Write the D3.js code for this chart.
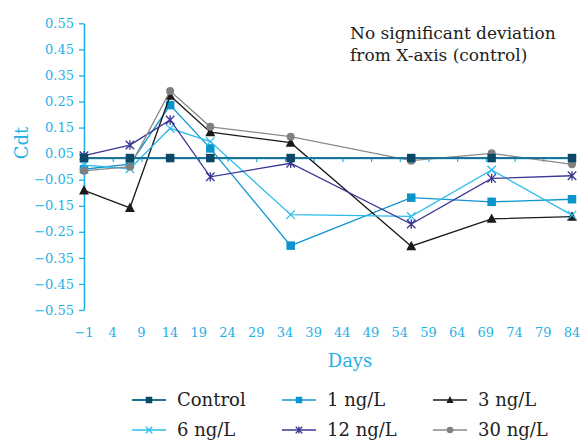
<!DOCTYPE html>
<html>
<head>
<meta charset="utf-8">
<script src="https://cdn.jsdelivr.net/npm/d3@7"></script>
<style>
  html, body { margin: 0; padding: 0; background: #ffffff; }
  svg { display: block; }
  text { font-family: "DejaVu Serif", serif; }
</style>
</head>
<body>
<svg id="chart" width="585" height="441"></svg>
<script>
// Sampling days
const days = [-1, 7, 14, 21, 35, 56, 70, 84];

// Cdt per concentration group
const control = [0.033, 0.033, 0.033, 0.033, 0.033, 0.033, 0.033, 0.033];
const ng1  = [-0.010, 0.010, 0.236, 0.070, -0.303, -0.119, -0.135, -0.125];
const ng3  = [-0.091, -0.158, 0.272, 0.132, 0.092, -0.305, -0.200, -0.192];
const ng6  = [0.006, -0.008, 0.147, 0.096, -0.184, -0.191, -0.013, -0.186];
const ng12 = [0.042, 0.083, 0.179, -0.039, 0.013, -0.220, -0.045, -0.035];
const ng30 = [-0.016, 0.000, 0.290, 0.153, 0.115, 0.023, 0.051, 0.009];

const seriesNames = ["Control", "1 ng/L", "3 ng/L", "6 ng/L", "12 ng/L", "30 ng/L"];

// Axis ticks
const xTicks = d3.range(-1, 85, 5);
const yTicks = d3.range(-0.55, 0.5501, 0.1);

const axisColor = "#1fb1e6";

const series = [
  { name: seriesNames[1], values: ng1,  line: "#1096cf", fill: "#0b93cc", marker: "square" },
  { name: seriesNames[2], values: ng3,  line: "#1a1a1a", fill: "#1a1a1a", marker: "triangle" },
  { name: seriesNames[3], values: ng6,  line: "#2cbcec", fill: "#2cbcec", marker: "cross" },
  { name: seriesNames[4], values: ng12, line: "#3b3795", fill: "#3b3795", marker: "asterisk" },
  { name: seriesNames[5], values: ng30, line: "#8a8a8a", fill: "#808080", marker: "circle" },
  { name: seriesNames[0], values: control, line: "#1f7296", fill: "#0b4866", marker: "square" }
];

const svg = d3.select("#chart");

const x = d3.scaleLinear().domain([-1, 84]).range([84, 572]);
const y = d3.scaleLinear().domain([-0.55, 0.55]).range([310, 23.3]);

// Y axis
const yAxis = svg.append("g")
  .attr("transform", `translate(${x(-1)},0)`)
  .call(d3.axisLeft(y).tickValues(yTicks).tickFormat(d3.format(".2f")).tickSize(5).tickPadding(5).tickSizeOuter(0));
yAxis.select(".domain").attr("stroke", axisColor).attr("stroke-width", 1.6);
yAxis.selectAll(".tick line").attr("stroke", axisColor).attr("stroke-width", 1.3);
yAxis.selectAll(".tick text")
  .attr("fill", axisColor)
  .style("font-size", "13px")
  .style("font-family", "DejaVu Serif, serif");

// X axis line crossing at the control level, with ticks below
const xAxisY = y(control[0]);
const xAxis = svg.append("g")
  .attr("transform", `translate(0,${xAxisY})`)
  .call(d3.axisBottom(x).tickValues(xTicks).tickFormat("").tickSize(4).tickSizeOuter(0));
xAxis.select(".domain").attr("stroke", axisColor).attr("stroke-width", 1.3);
xAxis.selectAll(".tick line").attr("stroke", axisColor).attr("stroke-width", 1.2);

// X tick labels at the bottom of the plot
svg.append("g").selectAll("text")
  .data(xTicks)
  .join("text")
  .attr("x", d => x(d))
  .attr("y", 337)
  .attr("text-anchor", "middle")
  .attr("fill", axisColor)
  .style("font-size", "13px")
  .text(d => d3.format("d")(d));

// Axis titles
svg.append("text")
  .attr("x", 350)
  .attr("y", 367)
  .attr("text-anchor", "middle")
  .attr("fill", axisColor)
  .style("font-size", "18px")
  .text("Days");

svg.append("text")
  .attr("transform", `translate(28,143) rotate(-90)`)
  .attr("text-anchor", "middle")
  .attr("fill", axisColor)
  .style("font-size", "18px")
  .text("Cdt");

// Annotation
const note = svg.append("text")
  .attr("x", 350)
  .attr("y", 39)
  .attr("fill", "#222222")
  .style("font-size", "17px");
note.append("tspan").attr("x", 350).text("No significant deviation");
note.append("tspan").attr("x", 350).attr("dy", 21.5).text("from X-axis (control)");

// Marker drawing
function drawMarker(g, type, color, s) {
  if (type === "square") {
    g.append("rect").attr("x", -s / 2).attr("y", -s / 2).attr("width", s).attr("height", s).attr("fill", color);
  } else if (type === "triangle") {
    const h = s;
    g.append("path").attr("d", `M0,${-h * 0.6}L${h * 0.55},${h * 0.45}L${-h * 0.55},${h * 0.45}Z`).attr("fill", color);
  } else if (type === "circle") {
    g.append("circle").attr("r", s / 2).attr("fill", color);
  } else if (type === "cross") {
    const r = s / 2;
    g.append("path").attr("d", `M${-r},${-r}L${r},${r}M${-r},${r}L${r},${-r}`).attr("stroke", color).attr("stroke-width", 1.3).attr("fill", "none");
  } else if (type === "asterisk") {
    const r = s / 2;
    g.append("path").attr("d", `M${-r},${-r}L${r},${r}M${-r},${r}L${r},${-r}M0,${-r * 1.1}L0,${r * 1.1}`).attr("stroke", color).attr("stroke-width", 1.3).attr("fill", "none");
  }
}

const line = d3.line().x((d, i) => x(days[i])).y(d => y(d));

const plot = svg.append("g");
series.forEach(s => {
  plot.append("path")
    .datum(s.values)
    .attr("d", line)
    .attr("fill", "none")
    .attr("stroke", s.line)
    .attr("stroke-width", s.name === "Control" ? 2 : 1.3);
  s.values.forEach((v, i) => {
    const g = plot.append("g").attr("transform", `translate(${x(days[i])},${y(v)})`);
    drawMarker(g, s.marker, s.fill, s.marker === "circle" ? 8 : (s.marker === "triangle" ? 9 : 8.5));
  });
});

// Legend
const legendOrder = [seriesNames[0], seriesNames[1], seriesNames[2], seriesNames[3], seriesNames[4], seriesNames[5]];
const colX = [132, 282, 433];
const rowY = [400, 430];
legendOrder.forEach((name, k) => {
  const s = series.find(d => d.name === name);
  const cx = colX[k % 3], cy = rowY[Math.floor(k / 3)];
  const g = svg.append("g").attr("transform", `translate(${cx},${cy})`);
  g.append("line").attr("x1", 0).attr("x2", 34).attr("y1", 0).attr("y2", 0)
    .attr("stroke", s.line).attr("stroke-width", s.name === "Control" ? 2 : 1.3);
  const m = g.append("g").attr("transform", "translate(17,0)");
  drawMarker(m, s.marker, s.fill, 6.5);
  g.append("text").attr("x", 45).attr("y", 6).attr("fill", "#222222")
    .style("font-size", "18px").text(name);
});
</script>
</body>
</html>
